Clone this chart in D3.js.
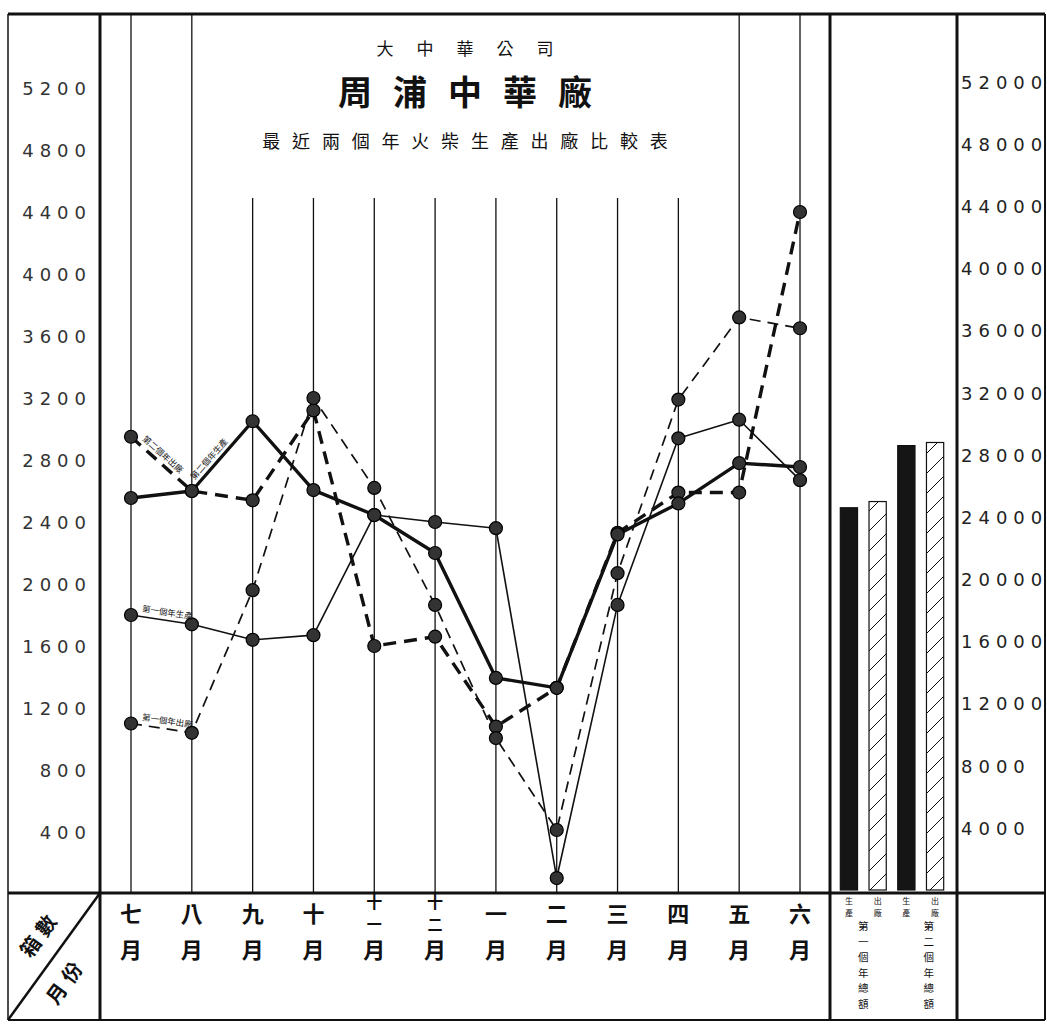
<!DOCTYPE html>
<html><head><meta charset="utf-8">
<script src="https://cdn.jsdelivr.net/npm/d3@7"></script>
<style>body{margin:0;background:#fff}svg{display:block}</style>
</head><body><svg id="c" width="1047" height="1025"></svg>
<script>
// ---------------- data ----------------
const months = ["七月","八月","九月","十月","十一月","十二月","一月","二月","三月","四月","五月","六月"];
const year2Ship = [2950,2600,2540,3120,1600,1660,1080,1330,2330,2590,2590,4400];
const year1Ship = [1100,1040,1960,3200,2620,1865,1006,413,2070,3190,3720,3650];
const year2Prod = [2555,2600,3050,2606,2445,2200,1394,1330,2320,2520,2780,2755];
const year1Prod = [1800,1740,1640,1670,2445,2400,2360,103,1865,2940,3060,2670];
const seriesNames = ["第二個年出廠","第一個年出廠","第二個年生產","第一個年生產"];
const leftTicks = [400,800,1200,1600,2000,2400,2800,3200,3600,4000,4400,4800,5200];
const rightTicks = [4000,8000,12000,16000,20000,24000,28000,32000,36000,40000,44000,48000,52000];
const totalKeys = ["第一個年生產","第一個年出廠","第二個年生產","第二個年出廠"];
const totalValues = [24600,25000,28600,28800];
const totalShort = ["生產","出廠","生產","出廠"];
const totalGroups = ["第一個年總額","第二個年總額"];
const titleTop = "大中華公司";
const titleMain = "周浦中華廠";
const titleSub = "最近兩個年火柴生產出廠比較表";
const cornerTop = "箱數";
const cornerBottom = "月份";

// ---------------- layout ----------------
const W = 1047, H = 1025;
const L = 8, R = 1045, T = 14, B = 1020;
const axisL = 100, barL = 830, barR = 957, baseY = 893;
const titleBlock = {x0: 215, x1: 712, y1: 198};
const cjk = "'Noto Sans CJK TC','Noto Sans CJK SC',sans-serif";
const num = "'DejaVu Sans',sans-serif";

const svg = d3.select("#c");
svg.append("rect").attr("width", W).attr("height", H).attr("fill", "#fff");

const defs = svg.append("defs");
const pat = defs.append("pattern").attr("id","hatch").attr("patternUnits","userSpaceOnUse")
  .attr("width",20).attr("height",20);
pat.append("rect").attr("width",20).attr("height",20).attr("fill","#fff");
pat.append("path").attr("d","M0,20 L20,0 M-5,5 L5,-5 M15,25 L25,15").attr("stroke","#111").attr("stroke-width",1);

const x = d3.scalePoint().domain(months).range([131, 800]);
const y = d3.scaleLinear().domain([0, 5200]).range([894, 88]);
const yR = d3.scaleLinear().domain([0, 52000]).range([890, 82]);
const xb = d3.scaleBand().domain(totalKeys).range([836, 948]).paddingInner(0.4).paddingOuter(0.15);

// ---------------- frame ----------------
const g = svg.append("g").attr("stroke", "#111").attr("fill", "none");
g.append("line").attr("x1",L).attr("x2",R).attr("y1",T).attr("y2",T).attr("stroke-width",3);
g.append("line").attr("x1",L).attr("x2",R).attr("y1",B).attr("y2",B).attr("stroke-width",2);
g.append("line").attr("x1",L).attr("x2",R).attr("y1",baseY).attr("y2",baseY).attr("stroke-width",3);
[[L,1.5],[R,2],[axisL,3],[barL,3],[barR,3]].forEach(([xx,w]) =>
  g.append("line").attr("x1",xx).attr("x2",xx).attr("y1",T).attr("y2",B).attr("stroke-width",w));

// month verticals
months.forEach(m => {
  const xx = x(m);
  const inside = xx > titleBlock.x0 && xx < titleBlock.x1;
  g.append("line").attr("x1",xx).attr("x2",xx)
    .attr("y1", inside ? titleBlock.y1 : T).attr("y2", baseY).attr("stroke-width",1.3);
});

// ---------------- titles ----------------
const tt = svg.append("g").attr("fill","#111").attr("font-family",cjk).attr("text-anchor","middle");
const cx = 465;
function spaced(text, yy, size, gap, weight) {
  const chars = text.split("");
  const n = chars.length;
  chars.forEach((ch, i) => {
    tt.append("text").attr("x", cx + (i - (n-1)/2) * gap).attr("y", yy)
      .attr("font-size", size).attr("font-weight", weight || 400)
      .attr("dominant-baseline","central").text(ch);
  });
}
spaced(titleTop, 47, 17, 40, 400);
spaced(titleMain, 90, 34, 55, 700);
spaced(titleSub, 140, 18, 29.8, 400);

// ---------------- axes ----------------
const la = svg.append("g").attr("transform", `translate(${axisL-8},0)`)
  .call(d3.axisLeft(y).tickValues(leftTicks).tickSize(0).tickPadding(0).tickFormat(d3.format("d")));
la.select(".domain").remove();
la.selectAll("text").attr("font-family",num).attr("font-size",18).attr("fill","#333")
  .attr("letter-spacing","6px").attr("dy","0.35em");

const ra = svg.append("g").attr("transform", `translate(${barR+4},0)`)
  .call(d3.axisRight(yR).tickValues(rightTicks).tickSize(0).tickPadding(0).tickFormat(d3.format("d")));
ra.select(".domain").remove();
ra.selectAll("text").attr("font-family",num).attr("font-size",18).attr("fill","#222")
  .attr("letter-spacing","6px").attr("dy","0.35em");

// ---------------- lines ----------------
const seriesData = [year2Ship, year1Ship, year2Prod, year1Prod];
const styles = {
  "第二個年出廠": {w: 3.4, dash: "13,8", labelSeg: 0},
  "第一個年出廠": {w: 1.7, dash: "11,7", labelSeg: 0},
  "第二個年生產": {w: 3.4, dash: null, labelSeg: 1},
  "第一個年生產": {w: 1.6, dash: null, labelSeg: 0}
};
const line = d3.line().x((d,i) => x(months[i])).y(d => y(d));
const lg = svg.append("g");
seriesNames.forEach((name, k) => {
  const st = styles[name];
  lg.append("path").datum(seriesData[k]).attr("d", line)
    .attr("fill","none").attr("stroke","#111").attr("stroke-width",st.w)
    .attr("stroke-linejoin","round")
    .attr("stroke-dasharray", st.dash);
});
seriesNames.forEach((name, k) => {
  lg.selectAll(null).data(seriesData[k]).join("circle")
    .attr("cx",(d,i)=>x(months[i])).attr("cy",d=>y(d)).attr("r",6.5)
    .attr("fill","#333").attr("stroke","#000").attr("stroke-width",1.2);
});
// labels along a segment
seriesNames.forEach((name, k) => {
  const st = styles[name];
  const i = st.labelSeg;
  const x0 = x(months[i]), y0 = y(seriesData[k][i]);
  const x1 = x(months[i+1]), y1 = y(seriesData[k][i+1]);
  const ang = Math.atan2(y1-y0, x1-x0) * 180 / Math.PI;
  lg.append("text").attr("transform", `translate(${x0},${y0}) rotate(${ang}) translate(10,-5)`)
    .attr("font-family",cjk).attr("font-size",8.5).attr("fill","#111").text(name);
});

// ---------------- totals bars ----------------
const bg = svg.append("g");
totalKeys.forEach((key, i) => {
  const v = totalValues[i];
  bg.append("rect").attr("x", xb(key)).attr("width", xb.bandwidth())
    .attr("y", yR(v)).attr("height", yR(0) - yR(v))
    .attr("fill", i % 2 === 0 ? "#151515" : "url(#hatch)")
    .attr("stroke","#111").attr("stroke-width", 1.2);
  const cxb = xb(key) + xb.bandwidth()/2;
  totalShort[i].split("").forEach((ch, j) => {
    bg.append("text").attr("x", cxb).attr("y", 904 + j*12).attr("text-anchor","middle")
      .attr("font-family",cjk).attr("font-size",8).attr("fill","#111").text(ch);
  });
});
totalGroups.forEach((grp, gi) => {
  const k0 = totalKeys[gi*2], k1 = totalKeys[gi*2+1];
  const gx = (xb(k0) + xb(k1) + xb.bandwidth()) / 2 + (gi === 1 ? 8 : 0);
  grp.split("").forEach((ch, j) => {
    bg.append("text").attr("x", gx).attr("y", 930 + j*15.5).attr("text-anchor","middle")
      .attr("font-family",cjk).attr("font-size",10.5).attr("fill","#111").text(ch);
  });
});

// ---------------- month labels ----------------
const mg = svg.append("g").attr("font-family",cjk).attr("fill","#111").attr("text-anchor","middle")
  .attr("font-weight",700);
months.forEach(m => {
  const chars = m.split("");
  const numPart = chars.slice(0, -1);
  const xx = x(m);
  if (numPart.length === 1) {
    mg.append("text").attr("x",xx).attr("y",922).attr("font-size",22).text(numPart[0]);
  } else {
    mg.append("text").attr("x",xx).attr("y",908).attr("font-size",16).text(numPart[0]);
    mg.append("text").attr("x",xx).attr("y",930).attr("font-size",15).text(numPart[1]);
  }
  mg.append("text").attr("x",xx).attr("y",958).attr("font-size",22).text(chars[chars.length-1]);
});

// ---------------- corner cell ----------------
const cg = svg.append("g");
cg.append("line").attr("x1",L).attr("y1",B).attr("x2",axisL).attr("y2",baseY)
  .attr("stroke","#111").attr("stroke-width",2.5);
const dAng = Math.atan2(baseY - B, axisL - L) * 180 / Math.PI;
cg.append("text").attr("transform",`translate(46,938) rotate(${dAng})`)
  .attr("text-anchor","middle").attr("font-family",cjk).attr("font-size",20).attr("font-weight",700)
  .attr("letter-spacing","6px").attr("fill","#111").text(cornerTop);
cg.append("text").attr("transform",`translate(72,985) rotate(${dAng})`)
  .attr("text-anchor","middle").attr("font-family",cjk).attr("font-size",20).attr("font-weight",700)
  .attr("letter-spacing","6px").attr("fill","#111").text(cornerBottom);
</script></body></html>
